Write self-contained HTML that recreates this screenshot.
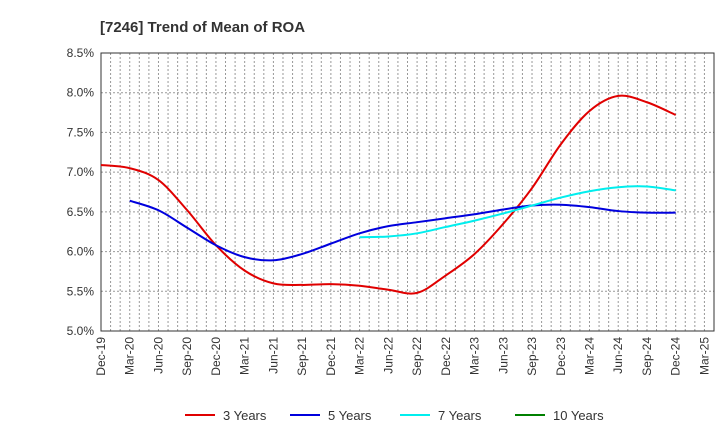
<!DOCTYPE html>
<html><head><meta charset="utf-8"><style>
body{margin:0;background:#fff;font-family:"Liberation Sans",sans-serif}
</style></head><body>
<svg id="c" width="720" height="440" xmlns="http://www.w3.org/2000/svg">
<text x="100" y="32" font-size="15" font-weight="bold" fill="#333">[7246]  Trend of Mean of ROA</text>
<g id="grid"></g><g id="axes"></g><g id="series"></g><g id="legend"></g>
</svg>
<script>
const xLabels=["Dec-19","Mar-20","Jun-20","Sep-20","Dec-20","Mar-21","Jun-21","Sep-21","Dec-21","Mar-22","Jun-22","Sep-22","Dec-22","Mar-23","Jun-23","Sep-23","Dec-23","Mar-24","Jun-24","Sep-24","Dec-24","Mar-25"];
const yTicks=[5.0,5.5,6.0,6.5,7.0,7.5,8.0,8.5];
const s3=[7.09,7.05,6.9,6.52,6.08,5.76,5.6,5.58,5.59,5.57,5.52,5.48,5.7,5.97,6.35,6.8,7.35,7.77,7.96,7.88,7.72];
const s5=[null,6.64,6.52,6.3,6.08,5.93,5.89,5.97,6.1,6.23,6.32,6.37,6.42,6.47,6.53,6.58,6.59,6.56,6.51,6.49,6.49];
const s7=[null,null,null,null,null,null,null,null,null,6.18,6.19,6.23,6.31,6.39,6.48,6.58,6.68,6.76,6.81,6.82,6.77];
const s10=[];
const names=["3 Years","5 Years","7 Years","10 Years"];
const colors=["#e00000","#0000dd","#00eeee","#008000"];
const L=101,R=714,T=53,B=331,NS="http://www.w3.org/2000/svg";
const xm=m=>L+(R-L)*m/64;
const xq=i=>xm(i*3);
const y=v=>B-(v-5)/3.5*(B-T);
function mk(p,t,a){const e=document.createElementNS(NS,t);for(const k in a)e.setAttribute(k,a[k]);p.appendChild(e);return e;}
const g=document.getElementById('grid'),ax=document.getElementById('axes'),se=document.getElementById('series'),lg=document.getElementById('legend');
for(let m=1;m<64;m++){const l=mk(g,'line',{x1:xm(m),x2:xm(m),y1:T,y2:B,stroke:'#999','stroke-dasharray':'2,2','stroke-width':1});

}
yTicks.forEach(v=>{const l=mk(g,'line',{x1:L,x2:R,y1:y(v),y2:y(v),stroke:'#999','stroke-dasharray':'2,2'});


const t=mk(ax,'text',{x:L-7,y:y(v)+4,'text-anchor':'end','font-size':12,fill:'#333'});t.textContent=v.toFixed(1)+'%';

});
const fr=mk(ax,'rect',{x:L,y:T,width:R-L,height:B-T,fill:'none',stroke:'#333'});


xLabels.forEach((s,i)=>{const x=xq(i);const t=mk(ax,'text',{x:x+4,y:B+6,'text-anchor':'end','font-size':12,fill:'#333',transform:`rotate(-90 ${x+4} ${B+6})`});t.textContent=s;

});
function path(arr){const pts=[];arr.forEach((v,i)=>{if(v!=null)pts.push([xq(i),y(v)])});if(pts.length<2)return '';
let d=`M${pts[0][0]},${pts[0][1]}`;for(let i=0;i<pts.length-1;i++){const p0=pts[i-1]||pts[i],p1=pts[i],p2=pts[i+1],p3=pts[i+2]||p2;
d+=` C${p1[0]+(p2[0]-p0[0])/6},${p1[1]+(p2[1]-p0[1])/6} ${p2[0]-(p3[0]-p1[0])/6},${p2[1]-(p3[1]-p1[1])/6} ${p2[0]},${p2[1]}`;}return d;}
[s3,s5,s7,s10].forEach((a,k)=>{const d=path(a);if(!d)return;const p=mk(se,'path',{d,fill:'none',stroke:colors[k],'stroke-width':2});

});
const lx=[185,290,400,515];
names.forEach((n,k)=>{const l=mk(lg,'line',{x1:lx[k],x2:lx[k]+30,y1:415,y2:415,stroke:colors[k],'stroke-width':2});


const t=mk(lg,'text',{x:lx[k]+38,y:420,'font-size':13,fill:'#333'});t.textContent=n;

});
</script>
</body></html>
